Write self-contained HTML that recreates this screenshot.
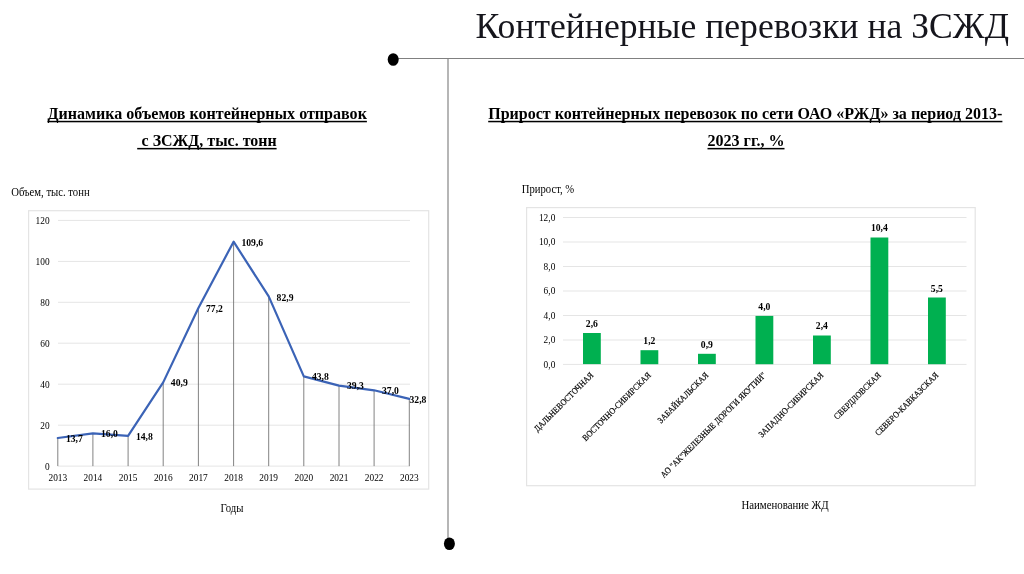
<!DOCTYPE html><html lang="ru"><head><meta charset="utf-8"><title>Контейнерные перевозки на ЗСЖД</title>
<style>html,body{margin:0;padding:0;background:#fff}body{width:1024px;height:574px;overflow:hidden}svg{display:block}text{font-family:"Liberation Serif","Times New Roman",serif;fill:#000}</style></head><body>
<svg width="1024" height="574" viewBox="0 0 1024 574">
<rect width="1024" height="574" fill="#fff"/>
<text x="475.6" y="37.6" font-size="35.6" textLength="533.4" lengthAdjust="spacingAndGlyphs" style="fill:#15151c">Контейнерные перевозки на ЗСЖД</text>
<line x1="393" y1="58.5" x2="1024" y2="58.5" stroke="#808080" stroke-width="1"/>
<line x1="448" y1="58.5" x2="448" y2="543" stroke="#808080" stroke-width="1.15"/>
<ellipse cx="393.2" cy="59.5" rx="5.5" ry="6.3" fill="#000"/>
<ellipse cx="449.4" cy="543.8" rx="5.5" ry="6.3" fill="#000"/>
<text x="47.5" y="118.5" font-size="16" font-weight="bold" textLength="319.4" lengthAdjust="spacingAndGlyphs">Динамика объемов контейнерных отправок</text>
<rect x="47.5" y="120.8" width="319.4" height="1.5" fill="#000"/>
<text x="141.6" y="145.6" font-size="16" font-weight="bold" textLength="135.0" lengthAdjust="spacingAndGlyphs">с ЗСЖД, тыс. тонн</text>
<rect x="137.2" y="147.9" width="139.4" height="1.5" fill="#000"/>
<text x="488.2" y="118.5" font-size="16" font-weight="bold" textLength="514.2" lengthAdjust="spacingAndGlyphs">Прирост контейнерных перевозок по сети ОАО «РЖД» за период 2013-</text>
<rect x="488.2" y="120.8" width="514.2" height="1.5" fill="#000"/>
<text x="707.5" y="145.6" font-size="16" font-weight="bold" textLength="77.0" lengthAdjust="spacingAndGlyphs">2023 гг., %</text>
<rect x="707.5" y="147.9" width="77.0" height="1.5" fill="#000"/>
<text transform="translate(11.20,196.30) scale(0.905,1)" font-size="11.8" text-anchor="start">Объем, тыс. тонн</text>
<text transform="translate(521.70,192.90) scale(0.905,1)" font-size="11.8" text-anchor="start">Прирост, %</text>
<text transform="translate(232.00,511.80) scale(0.9,1)" font-size="11.9" text-anchor="middle">Годы</text>
<text transform="translate(785.00,509.00) scale(0.91,1)" font-size="11.9" text-anchor="middle">Наименование ЖД</text>
<rect x="28.6" y="210.7" width="400.1" height="278.4" fill="#fff" stroke="#e4e4e4" stroke-width="1.2"/>
<line x1="58" y1="466.1" x2="410" y2="466.1" stroke="#e5e5e5" stroke-width="1"/>
<text transform="translate(49.60,469.50) scale(0.9,1)" font-size="10.4" text-anchor="end">0</text>
<line x1="58" y1="425.2" x2="410" y2="425.2" stroke="#e5e5e5" stroke-width="1"/>
<text transform="translate(49.60,428.55) scale(0.9,1)" font-size="10.4" text-anchor="end">20</text>
<line x1="58" y1="384.2" x2="410" y2="384.2" stroke="#e5e5e5" stroke-width="1"/>
<text transform="translate(49.60,387.60) scale(0.9,1)" font-size="10.4" text-anchor="end">40</text>
<line x1="58" y1="343.2" x2="410" y2="343.2" stroke="#e5e5e5" stroke-width="1"/>
<text transform="translate(49.60,346.65) scale(0.9,1)" font-size="10.4" text-anchor="end">60</text>
<line x1="58" y1="302.3" x2="410" y2="302.3" stroke="#e5e5e5" stroke-width="1"/>
<text transform="translate(49.60,305.70) scale(0.9,1)" font-size="10.4" text-anchor="end">80</text>
<line x1="58" y1="261.4" x2="410" y2="261.4" stroke="#e5e5e5" stroke-width="1"/>
<text transform="translate(49.60,264.75) scale(0.9,1)" font-size="10.4" text-anchor="end">100</text>
<line x1="58" y1="220.4" x2="410" y2="220.4" stroke="#e5e5e5" stroke-width="1"/>
<text transform="translate(49.60,223.80) scale(0.9,1)" font-size="10.4" text-anchor="end">120</text>
<line x1="57.8" y1="438.0" x2="57.8" y2="466.1" stroke="#757575" stroke-width="0.9"/>
<text transform="translate(57.80,481.40) scale(0.9,1)" font-size="10.4" text-anchor="middle">2013</text>
<line x1="92.9" y1="433.3" x2="92.9" y2="466.1" stroke="#757575" stroke-width="0.9"/>
<text transform="translate(92.95,481.40) scale(0.9,1)" font-size="10.4" text-anchor="middle">2014</text>
<line x1="128.1" y1="435.8" x2="128.1" y2="466.1" stroke="#757575" stroke-width="0.9"/>
<text transform="translate(128.10,481.40) scale(0.9,1)" font-size="10.4" text-anchor="middle">2015</text>
<line x1="163.2" y1="382.4" x2="163.2" y2="466.1" stroke="#757575" stroke-width="0.9"/>
<text transform="translate(163.25,481.40) scale(0.9,1)" font-size="10.4" text-anchor="middle">2016</text>
<line x1="198.4" y1="308.0" x2="198.4" y2="466.1" stroke="#757575" stroke-width="0.9"/>
<text transform="translate(198.40,481.40) scale(0.9,1)" font-size="10.4" text-anchor="middle">2017</text>
<line x1="233.6" y1="241.7" x2="233.6" y2="466.1" stroke="#757575" stroke-width="0.9"/>
<text transform="translate(233.55,481.40) scale(0.9,1)" font-size="10.4" text-anchor="middle">2018</text>
<line x1="268.7" y1="296.4" x2="268.7" y2="466.1" stroke="#757575" stroke-width="0.9"/>
<text transform="translate(268.70,481.40) scale(0.9,1)" font-size="10.4" text-anchor="middle">2019</text>
<line x1="303.8" y1="376.4" x2="303.8" y2="466.1" stroke="#757575" stroke-width="0.9"/>
<text transform="translate(303.85,481.40) scale(0.9,1)" font-size="10.4" text-anchor="middle">2020</text>
<line x1="339.0" y1="385.6" x2="339.0" y2="466.1" stroke="#757575" stroke-width="0.9"/>
<text transform="translate(339.00,481.40) scale(0.9,1)" font-size="10.4" text-anchor="middle">2021</text>
<line x1="374.1" y1="390.3" x2="374.1" y2="466.1" stroke="#757575" stroke-width="0.9"/>
<text transform="translate(374.15,481.40) scale(0.9,1)" font-size="10.4" text-anchor="middle">2022</text>
<line x1="409.3" y1="398.9" x2="409.3" y2="466.1" stroke="#757575" stroke-width="0.9"/>
<text transform="translate(409.30,481.40) scale(0.9,1)" font-size="10.4" text-anchor="middle">2023</text>
<polyline fill="none" stroke="#3b63b6" stroke-width="2.2" stroke-linejoin="round" stroke-linecap="round" points="57.8,438.0 92.9,433.3 128.1,435.8 163.2,382.4 198.4,308.0 233.6,241.7 268.7,296.4 303.8,376.4 339.0,385.6 374.1,390.3 409.3,398.9"/>
<text transform="translate(65.90,442.30) scale(0.94,1)" font-size="10.3" text-anchor="start" font-weight="bold">13,7</text>
<text transform="translate(101.00,437.30) scale(0.94,1)" font-size="10.3" text-anchor="start" font-weight="bold">16,0</text>
<text transform="translate(135.90,439.80) scale(0.94,1)" font-size="10.3" text-anchor="start" font-weight="bold">14,8</text>
<text transform="translate(170.80,385.90) scale(0.94,1)" font-size="10.3" text-anchor="start" font-weight="bold">40,9</text>
<text transform="translate(206.00,311.90) scale(0.94,1)" font-size="10.3" text-anchor="start" font-weight="bold">77,2</text>
<text transform="translate(241.40,245.70) scale(0.94,1)" font-size="10.3" text-anchor="start" font-weight="bold">109,6</text>
<text transform="translate(276.60,300.80) scale(0.94,1)" font-size="10.3" text-anchor="start" font-weight="bold">82,9</text>
<text transform="translate(311.90,380.00) scale(0.94,1)" font-size="10.3" text-anchor="start" font-weight="bold">43,8</text>
<text transform="translate(347.00,389.40) scale(0.94,1)" font-size="10.3" text-anchor="start" font-weight="bold">39,3</text>
<text transform="translate(382.00,394.00) scale(0.94,1)" font-size="10.3" text-anchor="start" font-weight="bold">37,0</text>
<text transform="translate(409.50,402.70) scale(0.94,1)" font-size="10.3" text-anchor="start" font-weight="bold">32,8</text>
<rect x="526.6" y="207.6" width="448.6" height="278.1" fill="#fff" stroke="#e4e4e4" stroke-width="1.2"/>
<line x1="563" y1="364.4" x2="966.5" y2="364.4" stroke="#e5e5e5" stroke-width="1"/>
<text transform="translate(555.30,367.85) scale(0.9,1)" font-size="10.4" text-anchor="end">0,0</text>
<line x1="563" y1="340.0" x2="966.5" y2="340.0" stroke="#e5e5e5" stroke-width="1"/>
<text transform="translate(555.30,343.36) scale(0.9,1)" font-size="10.4" text-anchor="end">2,0</text>
<line x1="563" y1="315.5" x2="966.5" y2="315.5" stroke="#e5e5e5" stroke-width="1"/>
<text transform="translate(555.30,318.87) scale(0.9,1)" font-size="10.4" text-anchor="end">4,0</text>
<line x1="563" y1="291.0" x2="966.5" y2="291.0" stroke="#e5e5e5" stroke-width="1"/>
<text transform="translate(555.30,294.38) scale(0.9,1)" font-size="10.4" text-anchor="end">6,0</text>
<line x1="563" y1="266.5" x2="966.5" y2="266.5" stroke="#e5e5e5" stroke-width="1"/>
<text transform="translate(555.30,269.88) scale(0.9,1)" font-size="10.4" text-anchor="end">8,0</text>
<line x1="563" y1="242.0" x2="966.5" y2="242.0" stroke="#e5e5e5" stroke-width="1"/>
<text transform="translate(555.30,245.39) scale(0.9,1)" font-size="10.4" text-anchor="end">10,0</text>
<line x1="563" y1="217.5" x2="966.5" y2="217.5" stroke="#e5e5e5" stroke-width="1"/>
<text transform="translate(555.30,220.90) scale(0.9,1)" font-size="10.4" text-anchor="end">12,0</text>
<rect x="583.0" y="333.0" width="17.8" height="31.1" fill="#00b050"/>
<text transform="translate(591.90,327.01) scale(0.94,1)" font-size="10.3" text-anchor="middle" font-weight="bold">2,6</text>
<text transform="translate(594.00,375.75) rotate(-45) scale(0.9,1)" font-size="8.8" text-anchor="end" stroke="#000" stroke-width="0.18">ДАЛЬНЕВОСТОЧНАЯ</text>
<rect x="640.5" y="350.2" width="17.8" height="14.0" fill="#00b050"/>
<text transform="translate(649.40,344.15) scale(0.94,1)" font-size="10.3" text-anchor="middle" font-weight="bold">1,2</text>
<text transform="translate(651.50,375.75) rotate(-45) scale(0.9,1)" font-size="8.8" text-anchor="end" stroke="#000" stroke-width="0.18">ВОСТОЧНО-СИБИРСКАЯ</text>
<rect x="698.0" y="353.8" width="17.8" height="10.3" fill="#00b050"/>
<text transform="translate(706.90,347.83) scale(0.94,1)" font-size="10.3" text-anchor="middle" font-weight="bold">0,9</text>
<text transform="translate(709.00,375.75) rotate(-45) scale(0.9,1)" font-size="8.8" text-anchor="end" stroke="#000" stroke-width="0.18">ЗАБАЙКАЛЬСКАЯ</text>
<rect x="755.5" y="315.9" width="17.8" height="48.3" fill="#00b050"/>
<text transform="translate(764.40,309.87) scale(0.94,1)" font-size="10.3" text-anchor="middle" font-weight="bold">4,0</text>
<text transform="translate(766.50,375.75) rotate(-45) scale(0.9,1)" font-size="8.8" text-anchor="end" stroke="#000" stroke-width="0.18">АО &quot;АК&quot;ЖЕЛЕЗНЫЕ ДОРОГИ ЯКУТИИ&quot;</text>
<rect x="813.0" y="335.5" width="17.8" height="28.7" fill="#00b050"/>
<text transform="translate(821.90,329.46) scale(0.94,1)" font-size="10.3" text-anchor="middle" font-weight="bold">2,4</text>
<text transform="translate(824.00,375.75) rotate(-45) scale(0.9,1)" font-size="8.8" text-anchor="end" stroke="#000" stroke-width="0.18">ЗАПАДНО-СИБИРСКАЯ</text>
<rect x="870.5" y="237.5" width="17.8" height="126.7" fill="#00b050"/>
<text transform="translate(879.40,231.49) scale(0.94,1)" font-size="10.3" text-anchor="middle" font-weight="bold">10,4</text>
<text transform="translate(881.50,375.75) rotate(-45) scale(0.9,1)" font-size="8.8" text-anchor="end" stroke="#000" stroke-width="0.18">СВЕРДЛОВСКАЯ</text>
<rect x="928.0" y="297.5" width="17.8" height="66.7" fill="#00b050"/>
<text transform="translate(936.90,291.50) scale(0.94,1)" font-size="10.3" text-anchor="middle" font-weight="bold">5,5</text>
<text transform="translate(939.00,375.75) rotate(-45) scale(0.9,1)" font-size="8.8" text-anchor="end" stroke="#000" stroke-width="0.18">СЕВЕРО-КАВКАЗСКАЯ</text>
</svg></body></html>
